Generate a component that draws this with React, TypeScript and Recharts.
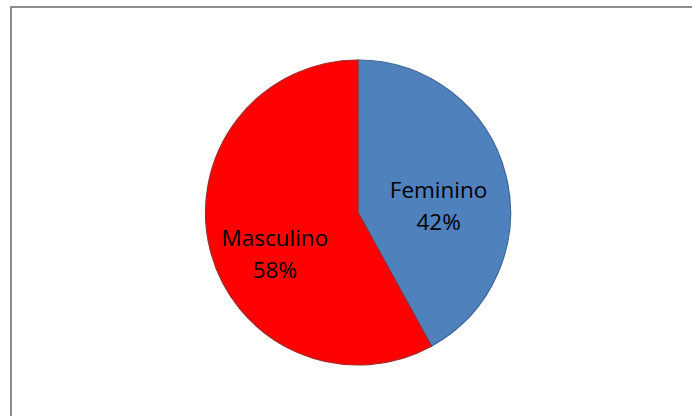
import { PieChart, Pie, Cell } from "recharts";

const categories = ["Feminino", "Masculino"];
const shares = [42, 58];

const FILLS = ["#4F81BD", "#FF0000"];
const STROKES = ["#3B6496", "#A52A2A"];
// label placement tweaks (radius ratio, angle shift in degrees)
const LABEL_POS = [
  { r: 0.53, shift: -9.8 },
  { r: 0.61, shift: 12.2 },
];

const data = categories.map((name, i) => ({ name, value: shares[i] }));

const RADIAN = Math.PI / 180;

function renderLabel(props: any) {
  const { cx, cy, midAngle, outerRadius, index, name, percent } = props;
  const pos = LABEL_POS[index];
  const ang = (midAngle + pos.shift) * RADIAN;
  const r = outerRadius * pos.r;
  const x = cx + r * Math.cos(-ang);
  const y = cy + r * Math.sin(-ang);
  return (
    <text
      x={x}
      y={y}
      textAnchor="middle"
      fill="#000"
      fontSize={22.5}
      fontFamily="'Open Sans', sans-serif"
    >
      <tspan x={x} dy={-8}>
        {name}
      </tspan>
      <tspan x={x} dy={32}>
        {Math.round(percent * 100)}%
      </tspan>
    </text>
  );
}

export default function App() {
  return (
    <div
      style={{
        position: "fixed",
        left: 0,
        top: 0,
        width: 692,
        height: 416,
        background: "#fff",
        overflow: "hidden",
      }}
    >
      <div
        style={{
          position: "absolute",
          left: 10,
          top: 6,
          width: 720,
          height: 440,
          borderTop: "2px solid #8c8c8c",
          borderLeft: "2px solid #8c8c8c",
        }}
      />
      <div style={{ position: "absolute", left: 0, top: 0 }}>
        <PieChart width={692} height={416} margin={{ top: 0, right: 0, bottom: 0, left: 0 }}>
          <Pie
            data={data}
            dataKey="value"
            nameKey="name"
            cx={358}
            cy={212.5}
            outerRadius={152.5}
            startAngle={90}
            endAngle={-270}
            label={renderLabel}
            labelLine={false}
            isAnimationActive={false}
          >
            {data.map((entry, i) => (
              <Cell key={entry.name} fill={FILLS[i]} stroke={STROKES[i]} strokeWidth={1.2} />
            ))}
          </Pie>
        </PieChart>
      </div>
    </div>
  );
}
